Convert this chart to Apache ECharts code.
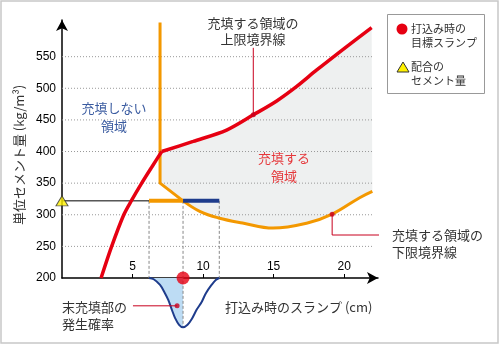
<!DOCTYPE html>
<html><head><meta charset="utf-8">
<script src="https://cdn.jsdelivr.net/npm/echarts@6/dist/echarts.min.js"></script>
<style>html,body{margin:0;padding:0;background:#fff}#c{width:500px;height:345px}</style>
</head><body><div id="c"></div>
<script>
// ---- data ----
const xTicks = [5, 10, 15, 20];
const yTicks = [200, 250, 300, 350, 400, 450, 500, 550];
const gridLevels = [250, 300, 350, 400, 450, 500, 550];
const redLower = [[2.77,200],[3.52,250],[4.38,300],[4.94,323],[5.65,350],[6.38,376],[7.07,400]];
const redUpper = [[7.07,400],[9.3,416],[11.67,434],[13.56,458],[15.22,480],[16.64,503],[18.06,529],[20.18,566],[21.95,596]];
const orangeEdge = [[6.95,604],[6.95,350],[8.58,322]];
const orangeCurve = [[8.58,322],[9.8,305],[11.1,295],[12.8,287],[14.96,279],[17.4,287],[19.15,301],[21.1,327],[22.0,337]];
const cementLevel = 322;
const targetSlump = 8.58;
const slumpRange = [6.17, 11.15];
const bellLeft = [[6.17,200],[6.5,198],[6.95,189],[7.25,178],[7.54,165],[7.8,149],[8.01,137],[8.3,126],[8.58,122]];
const bellRight = [[8.58,122],[8.9,126],[9.2,135],[9.55,150],[9.9,162],[10.2,176],[10.6,189],[10.9,197],[11.15,200]];
const upperLeaderPt = [13.56, 458];
const lowerLeaderPt = [19.15, 301];
const bellLeaderPt = [8.16, 156];

const RED = '#e60012', ORANGE = '#f39800', NAVY = '#1e3c8c', LEAD = '#c8001e';
const JP = '"Noto Sans CJK JP", sans-serif';

const chart = echarts.init(document.getElementById('c'), null, {renderer: 'canvas'});

function line(data, color, width, opts) {
  return Object.assign({
    type: 'line', data: data, symbol: 'none', silent: true, clip: false, animation: false,
    lineStyle: {color: color, width: width}
  }, opts || {});
}
function poly(points, color, z) {
  return {
    type: 'custom', coordinateSystem: 'cartesian2d', silent: true, clip: false, z: z, animation: false,
    data: [points[0]],
    renderItem: function (params, api) {
      return {type: 'polygon', shape: {points: points.map(p => api.coord(p)), smooth: 0}, style: {fill: color}};
    }
  };
}

const grayPoly = [[6.95, 399]].concat(redUpper, orangeCurve.slice().reverse(), [[6.95, 350]]);
const bellFill = bellLeft.concat([[targetSlump, 200]]);

const series = [];
series.push(poly(grayPoly, '#eef0f0', 1));
series.push(poly(bellFill, '#bddcf4', 1));
gridLevels.forEach(v => series.push(line([[0, v], [22.05, v]], '#999', 1, {z: 2, lineStyle: {color: '#999', width: 1, type: [1, 2]}})));
// dashed verticals
series.push(line([[slumpRange[0], cementLevel], [slumpRange[0], 200]], '#888', 1, {z: 3, lineStyle: {color: '#888', width: 1, type: [3, 2]}}));
series.push(line([[targetSlump, cementLevel], [targetSlump, bellLeft[bellLeft.length - 1][1]]], '#888', 1, {z: 3, lineStyle: {color: '#888', width: 1, type: [3, 2]}}));
series.push(line([[slumpRange[1], cementLevel], [slumpRange[1], 200]], '#888', 1, {z: 3, lineStyle: {color: '#888', width: 1, type: [3, 2]}}));
// cement level line
series.push(line([[0, cementLevel], [slumpRange[0], cementLevel]], '#000', 1, {z: 3}));
// orange boundary
series.push(line(orangeEdge, ORANGE, 3, {z: 4}));
series.push(line(orangeCurve, ORANGE, 3, {z: 4, smooth: 0.4}));
// red boundary
series.push(line(redLower, RED, 3.5, {z: 5, smooth: 0.3}));
series.push(line(redUpper, RED, 3.5, {z: 5, smooth: 0.3}));
// bars
series.push(line([[slumpRange[0], cementLevel], [targetSlump, cementLevel]], ORANGE, 4, {z: 6}));
series.push(line([[targetSlump, cementLevel], [slumpRange[1], cementLevel]], NAVY, 4, {z: 6}));
// bell
series.push(line(bellLeft.concat(bellRight.slice(1)), NAVY, 2, {z: 6, smooth: 0.3}));
// leaders
series.push(line([upperLeaderPt, [upperLeaderPt[0], 564]], LEAD, 1, {z: 7}));
series.push(line([lowerLeaderPt, [lowerLeaderPt[0], 268], [23.1, 268]], LEAD, 1, {z: 7}));
series.push(line([bellLeaderPt, [5.03, bellLeaderPt[1]]], LEAD, 1, {z: 7}));
series.push({type: 'scatter', data: [upperLeaderPt, lowerLeaderPt, bellLeaderPt], symbolSize: 5, itemStyle: {color: LEAD}, z: 8, silent: true, clip: false, animation: false});
// markers
series.push({type: 'scatter', data: [[targetSlump, 200]], symbolSize: 13, itemStyle: {color: RED}, z: 9, silent: true, clip: false, animation: false});
series.push({type: 'scatter', data: [[0, cementLevel]], symbol: 'triangle', symbolSize: [12, 10], itemStyle: {color: '#fff100', borderColor: '#333', borderWidth: 1}, z: 9, silent: true, clip: false, animation: false});

function txt(x, y, s, opt) {
  return {type: 'text', x: x, y: y, silent: true, z: 100, style: Object.assign({
    text: s, fill: '#333', font: '13px ' + JP, textAlign: 'center', textVerticalAlign: 'middle'
  }, opt || {})};
}

const option = {
  animation: false,
  grid: {left: 62, right: 122, top: 20, bottom: 67, containLabel: false, outerBoundsMode: 'none'},
  xAxis: {
    type: 'value', min: 0, max: 22.4, interval: 5,
    axisLine: {show: true, onZero: false, symbol: ['none', 'arrow'], symbolSize: [9, 11], lineStyle: {color: '#000', width: 1.5}},
    axisTick: {show: true, inside: true, length: 4, customValues: xTicks, lineStyle: {color: '#000'}},
    axisLabel: {inside: true, margin: 5, customValues: xTicks, color: '#000', fontSize: 12, fontFamily: 'Liberation Sans'},
    splitLine: {show: false}
  },
  yAxis: {
    type: 'value', min: 200, max: 608, interval: 50,
    axisLine: {show: true, onZero: false, symbol: ['none', 'arrow'], symbolSize: [9, 11], lineStyle: {color: '#000', width: 1.5}},
    axisTick: {show: false},
    axisLabel: {margin: 6, customValues: yTicks, color: '#000', fontSize: 12, fontFamily: 'Liberation Sans'},
    splitLine: {show: false}
  },
  series: series,
  graphic: [
    {type: 'rect', shape: {x: 1, y: 1, width: 497, height: 342}, style: {fill: 'none', stroke: '#c8c8c8', lineWidth: 1.5}, silent: true, z: 0},
    txt(19, 155, '単位セメント量 (kg/m³)', {}) ,
    txt(114, 117, '充填しない\n領域', {fill: '#3a5ba0', lineHeight: 18}),
    txt(284, 167, '充填する\n領域', {fill: '#e5383b', lineHeight: 18}),
    txt(253, 31, '充填する領域の\n上限境界線', {lineHeight: 16}),
    txt(392, 243.5, '充填する領域の\n下限境界線', {textAlign: 'left', lineHeight: 17}),
    txt(62, 315.5, '末充填部の\n発生確率', {textAlign: 'left', lineHeight: 17}),
    txt(225, 307, '打込み時のスランプ (cm)', {textAlign: 'left'}),
    {type: 'rect', shape: {x: 387.5, y: 14.5, width: 97, height: 79}, style: {fill: '#fff', stroke: '#999', lineWidth: 1}, silent: true, z: 90},
    {type: 'circle', shape: {cx: 402, cy: 29, r: 5.5}, style: {fill: RED}, silent: true, z: 100},
    {type: 'polygon', shape: {points: [[403, 62], [409, 72], [397, 72]]}, style: {fill: '#fff100', stroke: '#333', lineWidth: 1}, silent: true, z: 100},
    txt(411, 36, '打込み時の\n目標スランプ', {textAlign: 'left', font: '11px ' + JP, lineHeight: 14}),
    txt(411, 74, '配合の\nセメント量', {textAlign: 'left', font: '11px ' + JP, lineHeight: 14})
  ]
};
option.graphic[1].rotation = Math.PI / 2;
chart.setOption(option);
</script>
</body></html>
